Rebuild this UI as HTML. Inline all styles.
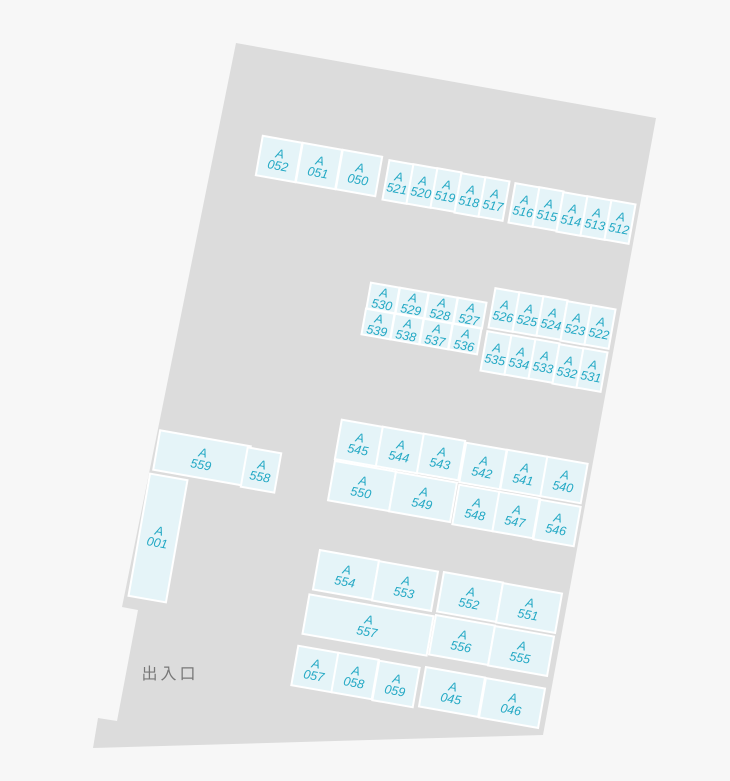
<!DOCTYPE html>
<html><head><meta charset="utf-8"><style>
html,body{margin:0;padding:0;background:#f7f7f7;}
svg{display:block}
.c rect{fill:#e5f4f8;stroke:#fff;stroke-width:2}
.c text{fill:#22a8c4;font-family:"Liberation Sans",sans-serif;font-size:12.5px;font-style:italic;text-anchor:middle}
</style></head><body>
<svg width="730" height="781" viewBox="0 0 730 781">
<polygon points="236,43 656,118 543,735 93,748 98,718 117,721 138,610 122,607" fill="#dcdcdc"/>
<text x="170" y="679" font-family="'Liberation Sans','Noto Sans CJK JP',sans-serif" font-size="16" fill="#777" text-anchor="middle" letter-spacing="3">出入口</text>
<g class="c">
<g transform="translate(279,159) rotate(10)"><rect x="-20" y="-20" width="40" height="40"/><text y="-1">A<tspan x="0" dy="12">052</tspan></text></g>
<g transform="translate(319,166) rotate(10)"><rect x="-20" y="-20" width="40" height="40"/><text y="-1">A<tspan x="0" dy="12">051</tspan></text></g>
<g transform="translate(359,173) rotate(10)"><rect x="-20" y="-20" width="40" height="40"/><text y="-1">A<tspan x="0" dy="12">050</tspan></text></g>

<g transform="translate(398,182) rotate(10)"><rect x="-12.25" y="-20" width="24.5" height="40"/><text y="-1">A<tspan x="0" dy="12">521</tspan></text></g>
<g transform="translate(422,186) rotate(10)"><rect x="-12.25" y="-20" width="24.5" height="40"/><text y="-1">A<tspan x="0" dy="12">520</tspan></text></g>
<g transform="translate(446,190) rotate(10)"><rect x="-12.25" y="-20" width="24.5" height="40"/><text y="-1">A<tspan x="0" dy="12">519</tspan></text></g>
<g transform="translate(470,195) rotate(10)"><rect x="-12.25" y="-20" width="24.5" height="40"/><text y="-1">A<tspan x="0" dy="12">518</tspan></text></g>
<g transform="translate(494,199) rotate(10)"><rect x="-12.25" y="-20" width="24.5" height="40"/><text y="-1">A<tspan x="0" dy="12">517</tspan></text></g>

<g transform="translate(524,205) rotate(10)"><rect x="-12.25" y="-20" width="24.5" height="40"/><text y="-1">A<tspan x="0" dy="12">516</tspan></text></g>
<g transform="translate(548,209) rotate(10)"><rect x="-12.25" y="-20" width="24.5" height="40"/><text y="-1">A<tspan x="0" dy="12">515</tspan></text></g>
<g transform="translate(572,214) rotate(10)"><rect x="-12.25" y="-20" width="24.5" height="40"/><text y="-1">A<tspan x="0" dy="12">514</tspan></text></g>
<g transform="translate(596,218) rotate(10)"><rect x="-12.25" y="-20" width="24.5" height="40"/><text y="-1">A<tspan x="0" dy="12">513</tspan></text></g>
<g transform="translate(620,222) rotate(10)"><rect x="-12.25" y="-20" width="24.5" height="40"/><text y="-1">A<tspan x="0" dy="12">512</tspan></text></g>

<g transform="translate(383,298) rotate(10)"><rect x="-14.5" y="-13" width="29" height="26"/><text y="-1">A<tspan x="0" dy="12">530</tspan></text></g>
<g transform="translate(412,303) rotate(10)"><rect x="-14.5" y="-13" width="29" height="26"/><text y="-1">A<tspan x="0" dy="12">529</tspan></text></g>
<g transform="translate(441,308) rotate(10)"><rect x="-14.5" y="-13" width="29" height="26"/><text y="-1">A<tspan x="0" dy="12">528</tspan></text></g>
<g transform="translate(470,313) rotate(10)"><rect x="-14.5" y="-13" width="29" height="26"/><text y="-1">A<tspan x="0" dy="12">527</tspan></text></g>
<g transform="translate(378,324) rotate(10)"><rect x="-14.5" y="-13" width="29" height="26"/><text y="-1">A<tspan x="0" dy="12">539</tspan></text></g>
<g transform="translate(407,329) rotate(10)"><rect x="-14.5" y="-13" width="29" height="26"/><text y="-1">A<tspan x="0" dy="12">538</tspan></text></g>
<g transform="translate(436,334) rotate(10)"><rect x="-14.5" y="-13" width="29" height="26"/><text y="-1">A<tspan x="0" dy="12">537</tspan></text></g>
<g transform="translate(465,339) rotate(10)"><rect x="-14.5" y="-13" width="29" height="26"/><text y="-1">A<tspan x="0" dy="12">536</tspan></text></g>

<g transform="translate(504,310) rotate(10)"><rect x="-12.25" y="-20" width="24.5" height="40"/><text y="-1">A<tspan x="0" dy="12">526</tspan></text></g>
<g transform="translate(528,314) rotate(10)"><rect x="-12.25" y="-20" width="24.5" height="40"/><text y="-1">A<tspan x="0" dy="12">525</tspan></text></g>
<g transform="translate(552,318) rotate(10)"><rect x="-12.25" y="-20" width="24.5" height="40"/><text y="-1">A<tspan x="0" dy="12">524</tspan></text></g>
<g transform="translate(576,323) rotate(10)"><rect x="-12.25" y="-20" width="24.5" height="40"/><text y="-1">A<tspan x="0" dy="12">523</tspan></text></g>
<g transform="translate(600,327) rotate(10)"><rect x="-12.25" y="-20" width="24.5" height="40"/><text y="-1">A<tspan x="0" dy="12">522</tspan></text></g>
<g transform="translate(496,353) rotate(10)"><rect x="-12.25" y="-20" width="24.5" height="40"/><text y="-1">A<tspan x="0" dy="12">535</tspan></text></g>
<g transform="translate(520,357) rotate(10)"><rect x="-12.25" y="-20" width="24.5" height="40"/><text y="-1">A<tspan x="0" dy="12">534</tspan></text></g>
<g transform="translate(544,361) rotate(10)"><rect x="-12.25" y="-20" width="24.5" height="40"/><text y="-1">A<tspan x="0" dy="12">533</tspan></text></g>
<g transform="translate(568,366) rotate(10)"><rect x="-12.25" y="-20" width="24.5" height="40"/><text y="-1">A<tspan x="0" dy="12">532</tspan></text></g>
<g transform="translate(592,370) rotate(10)"><rect x="-12.25" y="-20" width="24.5" height="40"/><text y="-1">A<tspan x="0" dy="12">531</tspan></text></g>

<g transform="translate(359,443) rotate(10)"><rect x="-21" y="-20" width="42" height="40"/><text y="-1">A<tspan x="0" dy="12">545</tspan></text></g>
<g transform="translate(400,450) rotate(10)"><rect x="-21" y="-20" width="42" height="40"/><text y="-1">A<tspan x="0" dy="12">544</tspan></text></g>
<g transform="translate(441,457) rotate(10)"><rect x="-21" y="-20" width="42" height="40"/><text y="-1">A<tspan x="0" dy="12">543</tspan></text></g>
<g transform="translate(362,486) rotate(10)"><rect x="-31" y="-20" width="62" height="40"/><text y="-1">A<tspan x="0" dy="12">550</tspan></text></g>
<g transform="translate(423,497) rotate(10)"><rect x="-31" y="-20" width="62" height="40"/><text y="-1">A<tspan x="0" dy="12">549</tspan></text></g>

<g transform="translate(483,466) rotate(10)"><rect x="-20.5" y="-20" width="41" height="40"/><text y="-1">A<tspan x="0" dy="12">542</tspan></text></g>
<g transform="translate(524,473) rotate(10)"><rect x="-20.5" y="-20" width="41" height="40"/><text y="-1">A<tspan x="0" dy="12">541</tspan></text></g>
<g transform="translate(564,480) rotate(10)"><rect x="-20.5" y="-20" width="41" height="40"/><text y="-1">A<tspan x="0" dy="12">540</tspan></text></g>
<g transform="translate(476,508) rotate(10)"><rect x="-20.5" y="-20" width="41" height="40"/><text y="-1">A<tspan x="0" dy="12">548</tspan></text></g>
<g transform="translate(516,515) rotate(10)"><rect x="-20.5" y="-20" width="41" height="40"/><text y="-1">A<tspan x="0" dy="12">547</tspan></text></g>
<g transform="translate(557,523) rotate(10)"><rect x="-20.5" y="-20" width="41" height="40"/><text y="-1">A<tspan x="0" dy="12">546</tspan></text></g>

<g transform="translate(202,458) rotate(10)"><rect x="-46" y="-20" width="92" height="40"/><text y="-1">A<tspan x="0" dy="12">559</tspan></text></g>
<g transform="translate(261,470) rotate(10)"><rect x="-17" y="-20" width="34" height="40"/><text y="-1">A<tspan x="0" dy="12">558</tspan></text></g>
<g transform="translate(158,538) rotate(10)"><rect x="-19" y="-62" width="38" height="124"/><text y="-3">A<tspan x="0" dy="12">001</tspan></text></g>

<g transform="translate(346,575) rotate(10)"><rect x="-30" y="-20" width="60" height="40"/><text y="-1">A<tspan x="0" dy="12">554</tspan></text></g>
<g transform="translate(405,586) rotate(10)"><rect x="-30" y="-20" width="60" height="40"/><text y="-1">A<tspan x="0" dy="12">553</tspan></text></g>
<g transform="translate(368,625) rotate(10)"><rect x="-63" y="-20" width="126" height="40"/><text y="-1">A<tspan x="0" dy="12">557</tspan></text></g>
<g transform="translate(470,597) rotate(10)"><rect x="-30" y="-20" width="60" height="40"/><text y="-1">A<tspan x="0" dy="12">552</tspan></text></g>
<g transform="translate(529,608) rotate(10)"><rect x="-30" y="-20" width="60" height="40"/><text y="-1">A<tspan x="0" dy="12">551</tspan></text></g>
<g transform="translate(462,640) rotate(10)"><rect x="-30" y="-20" width="60" height="40"/><text y="-1">A<tspan x="0" dy="12">556</tspan></text></g>
<g transform="translate(521,651) rotate(10)"><rect x="-30" y="-20" width="60" height="40"/><text y="-1">A<tspan x="0" dy="12">555</tspan></text></g>

<g transform="translate(315,669) rotate(10)"><rect x="-20.5" y="-20" width="41" height="40"/><text y="-1">A<tspan x="0" dy="12">057</tspan></text></g>
<g transform="translate(355,676) rotate(10)"><rect x="-20.5" y="-20" width="41" height="40"/><text y="-1">A<tspan x="0" dy="12">058</tspan></text></g>
<g transform="translate(396,684) rotate(10)"><rect x="-20.5" y="-20" width="41" height="40"/><text y="-1">A<tspan x="0" dy="12">059</tspan></text></g>
<g transform="translate(452,692) rotate(10)"><rect x="-30" y="-20" width="60" height="40"/><text y="-1">A<tspan x="0" dy="12">045</tspan></text></g>
<g transform="translate(512,703) rotate(10)"><rect x="-30" y="-20" width="60" height="40"/><text y="-1">A<tspan x="0" dy="12">046</tspan></text></g>
</g>
</svg>
</body></html>
